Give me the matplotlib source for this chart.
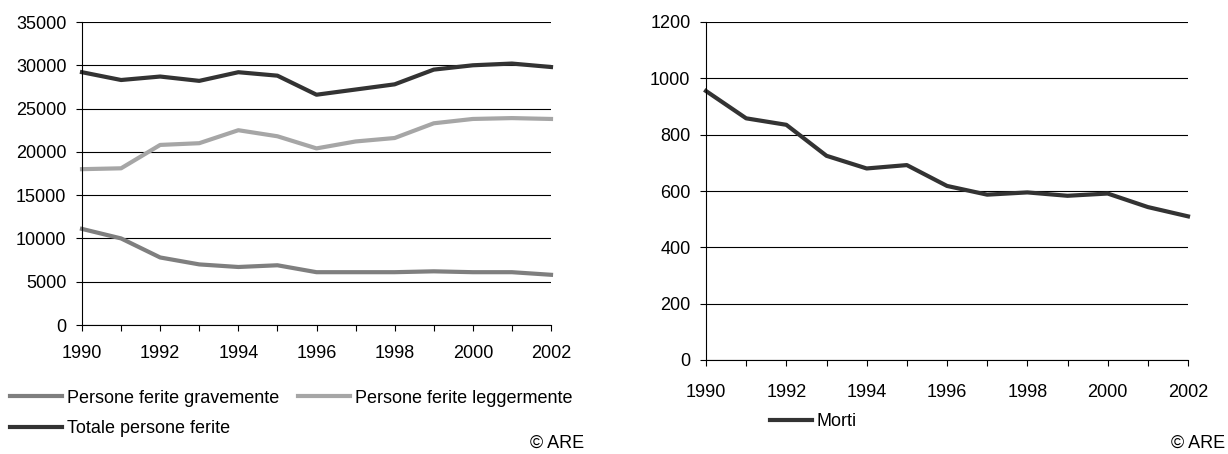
import matplotlib.pyplot as plt
import numpy as np

plt.rcParams['font.family'] = ['Liberation Sans', 'DejaVu Sans']
plt.rcParams['font.size'] = 13

years = np.arange(1990, 2003)
totale = [29200, 28300, 28700, 28200, 29200, 28800, 26600, 27200, 27800, 29500, 30000, 30200, 29800]
leggermente = [18000, 18100, 20800, 21000, 22500, 21800, 20400, 21200, 21600, 23300, 23800, 23900, 23800]
gravemente = [11100, 10000, 7800, 7000, 6700, 6900, 6100, 6100, 6100, 6200, 6100, 6100, 5800]
morti = [955, 858, 835, 725, 680, 692, 618, 587, 595, 583, 591, 543, 510]

W, H = 1228, 454
fig = plt.figure(figsize=(W / 100, H / 100), dpi=100)


def px_axes(x0, x1, y0, y1):
    # pixel box -> figure coords
    return fig.add_axes([x0 / W, 1 - y1 / H, (x1 - x0) / W, (y1 - y0) / H])


def style(ax, ymax, ystep, xpad):
    ax.set_xlim(1990, 2002)
    ax.set_ylim(0, ymax)
    ax.set_yticks(np.arange(0, ymax + 1, ystep))
    ax.set_xticks(np.arange(1990, 2003, 2))
    ax.set_xticks(years, minor=True)
    ax.grid(axis='y', color='black', linewidth=0.8)
    ax.set_axisbelow(True)
    for s in ['top', 'right']:
        ax.spines[s].set_visible(False)
    ax.spines['left'].set_linewidth(0.8)
    ax.spines['bottom'].set_linewidth(0.8)
    ax.tick_params(axis='both', which='both', direction='out', length=4.2, width=0.8, colors='black')
    ax.tick_params(axis='y', pad=7)
    ax.tick_params(axis='x', which='major', pad=xpad)


ax1 = px_axes(82, 551, 22, 325)
l_grav, = ax1.plot(years, gravemente, color='#7f7f7f', lw=3, label='Persone ferite gravemente')
l_legg, = ax1.plot(years, leggermente, color='#a6a6a6', lw=3, label='Persone ferite leggermente')
l_tot, = ax1.plot(years, totale, color='#333333', lw=3, label='Totale persone ferite')
style(ax1, 35000, 5000, 10)
for l in (l_grav, l_legg, l_tot):
    l.set_clip_on(False)

fig.legend([l_grav, l_tot, l_legg],
           [l.get_label() for l in (l_grav, l_tot, l_legg)],
           loc='center left', bbox_to_anchor=(10 / W, 1 - 413.5 / H), ncol=2, frameon=False,
           handlelength=2.9, handletextpad=0.28, columnspacing=1.0, labelspacing=0.75,
           borderaxespad=0, borderpad=0)

ax2 = px_axes(706, 1188, 22, 360)
l_morti, = ax2.plot(years, morti, color='#333333', lw=3, label='Morti')
l_morti.set_clip_on(False)
style(ax2, 1200, 200, 13)
fig.legend([l_morti], ['Morti'], loc='center left', bbox_to_anchor=(770 / W, 1 - 422 / H),
           frameon=False, handlelength=2.3, handletextpad=0.25, borderaxespad=0, borderpad=0)

fig.text(584 / W, 1 - 443 / H, '© ARE', ha='right', va='center')
fig.text(1225 / W, 1 - 443 / H, '© ARE', ha='right', va='center')

fig.savefig('out.png', dpi=100)
